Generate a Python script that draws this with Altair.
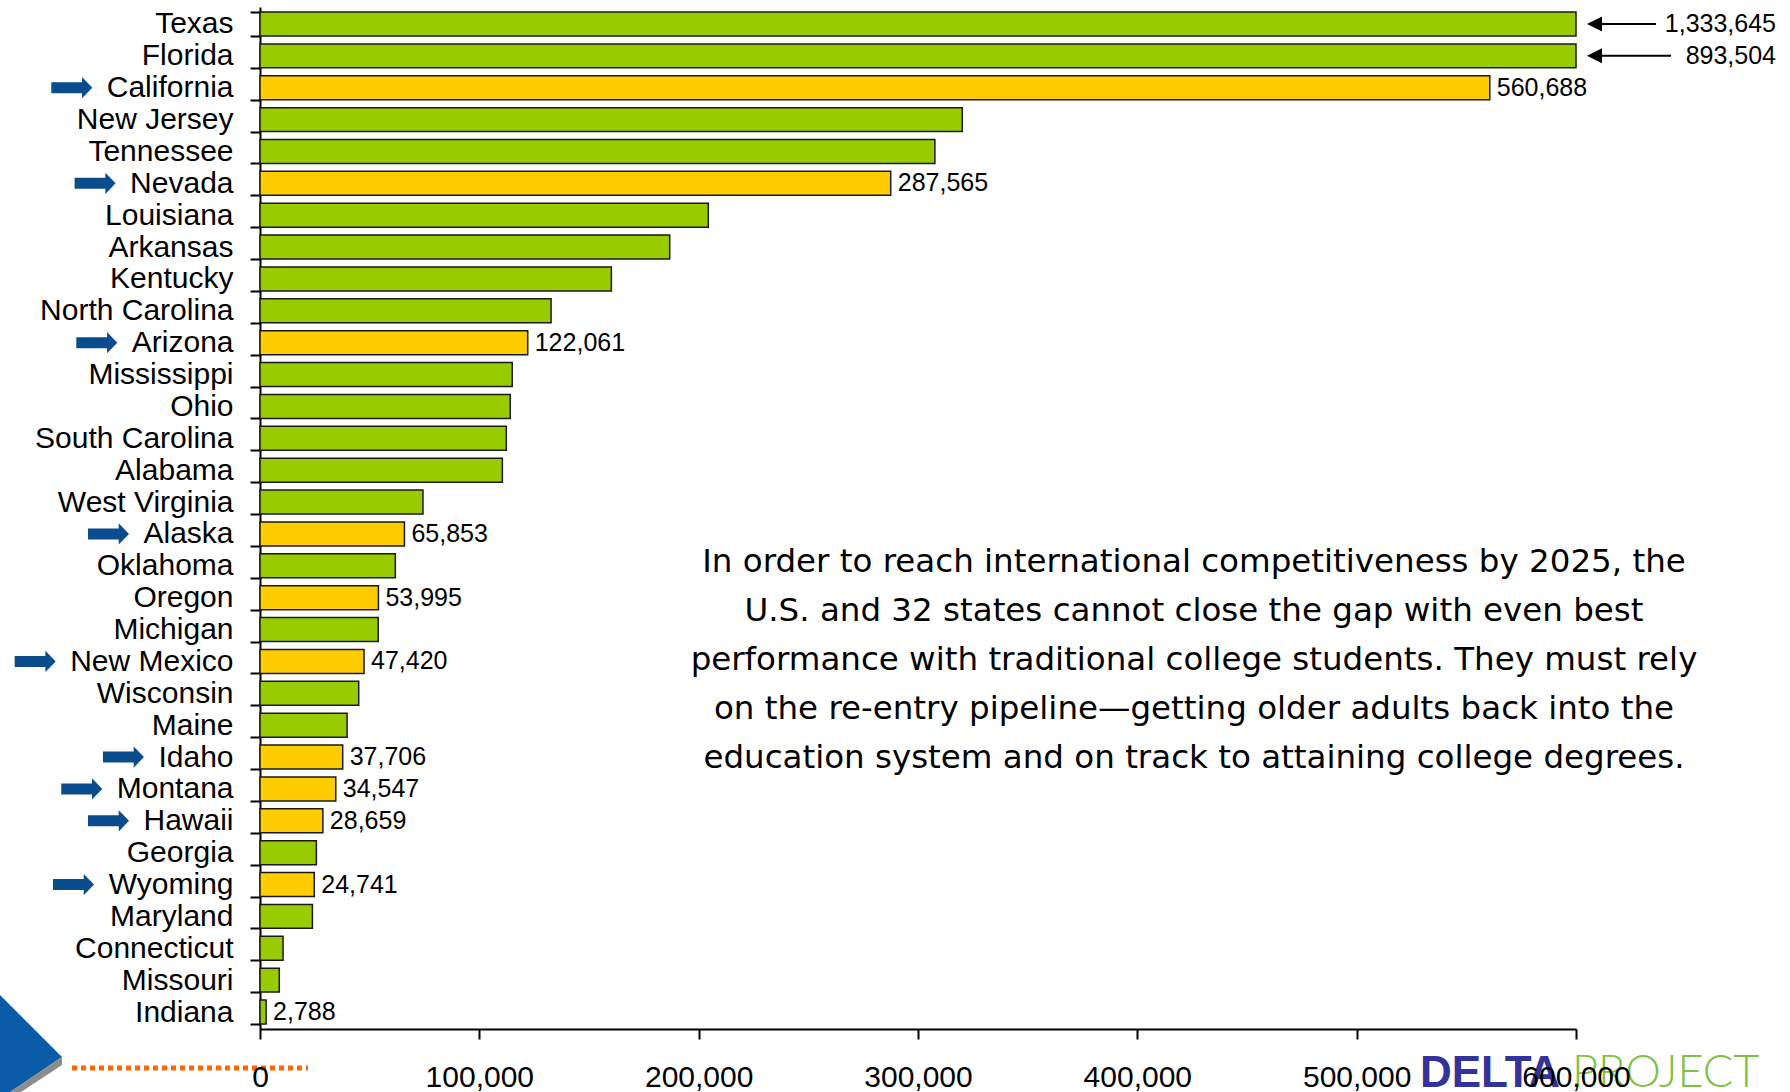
import altair as alt
import pandas as pd

# ---------------- data ----------------
states = ["Texas", "Florida", "California", "New Jersey", "Tennessee", "Nevada",
          "Louisiana", "Arkansas", "Kentucky", "North Carolina", "Arizona",
          "Mississippi", "Ohio", "South Carolina", "Alabama", "West Virginia",
          "Alaska", "Oklahoma", "Oregon", "Michigan", "New Mexico", "Wisconsin",
          "Maine", "Idaho", "Montana", "Hawaii", "Georgia", "Wyoming", "Maryland",
          "Connecticut", "Missouri", "Indiana"]
values = [1333645, 893504, 560688, 320200, 307700, 287565,
          204400, 186800, 160200, 132700, 122061,
          115000, 114100, 112300, 110500, 74300,
          65853, 61700, 53995, 53900, 47420, 45000,
          39700, 37706, 34547, 28659, 25700, 24741, 23900,
          10500, 8800, 2788]
highlighted = ["California", "Nevada", "Arizona", "Alaska", "Oregon", "New Mexico",
               "Idaho", "Montana", "Hawaii", "Wyoming"]
arrowed = ["California", "Nevada", "Arizona", "Alaska", "New Mexico", "Idaho",
           "Montana", "Hawaii", "Wyoming"]
labeled = highlighted + ["Indiana"]
called_out = ["Texas", "Florida"]
x_ticks = [0, 100000, 200000, 300000, 400000, 500000, 600000]
paragraph = [
    "In order to reach international competitiveness by 2025, the",
    "U.S. and 32 states cannot close the gap with even best",
    "performance with traditional college students.  They must rely",
    "on the re-entry pipeline\u2014getting older adults back into the",
    "education system and on track to attaining college degrees.",
]

# ---------------- layout constants ----------------
W, H = 1316, 1022
X_MAX = 600000
LABEL_FS = 30
FONT = "Liberation Sans"
GREEN, YELLOW, BLUE = "#99CC00", "#FFCC00", "#0B4D8C"

df = pd.DataFrame({
    "state": states,
    "value": values,
    "group": ["yellow" if s in highlighted else "green" for s in states],
})

# label width (Arial / Liberation Sans metrics, per 1000 em) to place the blue arrows
ARIAL = {" ": 278, "A": 667, "C": 722, "H": 722, "I": 278, "M": 833, "N": 722,
         "W": 944, "a": 556, "c": 500, "d": 556, "e": 556, "f": 278, "g": 556,
         "h": 556, "i": 222, "k": 500, "l": 222, "m": 833, "n": 556, "o": 556,
         "r": 333, "s": 500, "t": 278, "v": 500, "w": 722, "x": 500, "y": 500,
         "z": 500}


def text_w(s, fs):
    return sum(ARIAL.get(ch, 556) for ch in s) * fs / 1000.0


label_right = -27  # tick (10) + label padding (17), in pixels from the y axis
arrow_len = 41
px_to_data = X_MAX / W
arrow_df = pd.DataFrame({
    "state": arrowed,
    "ax": [(label_right - text_w(s, LABEL_FS) - 14 - arrow_len / 2) * px_to_data
           for s in arrowed],
})

x_scale = alt.Scale(domain=[0, X_MAX], nice=False, zero=True)
x_axis = alt.Axis(title=None, values=x_ticks, format=",d", grid=False,
                  labelFont=FONT, labelFontSize=LABEL_FS, labelColor="black",
                  labelPadding=23, tickSize=10, tickColor="black", tickWidth=2,
                  domainColor="black", domainWidth=2, labelFlush=False,
                  labelOverlap=False, zindex=2)
ysc = alt.Scale(paddingInner=0.25, paddingOuter=0.157)
y_axis = alt.Axis(title=None, tickBand="extent", labelFont=FONT,
                  labelFontSize=LABEL_FS, labelColor="black", labelLimit=0,
                  labelPadding=17, tickSize=10, tickColor="black",
                  tickWidth=2, domainColor="black", domainWidth=2)
y_enc = alt.Y("state:N", sort=states, scale=ysc, axis=y_axis)

base = alt.Chart(df)

bars = base.transform_calculate(
    plot_value=f"min(datum.value, {X_MAX})"
).mark_bar(stroke="#1a1a1a", strokeWidth=1.5).encode(
    x=alt.X("plot_value:Q", scale=x_scale, axis=x_axis),
    y=y_enc,
    color=alt.Color("group:N", scale=alt.Scale(domain=["yellow", "green"],
                                               range=[YELLOW, GREEN]), legend=None),
)

value_labels = base.transform_filter(
    alt.FieldOneOfPredicate(field="state", oneOf=labeled)
).mark_text(align="left", baseline="middle", dx=7, font=FONT, fontSize=25,
            color="black").encode(
    x=alt.X("value:Q", scale=x_scale, axis=x_axis),
    y=y_enc,
    text=alt.Text("value:Q", format=","),
)

# call-outs for the two bars running off the scale
callout_text = base.transform_filter(
    alt.FieldOneOfPredicate(field="state", oneOf=called_out)
).mark_text(align="right", baseline="middle", font=FONT, fontSize=25,
            color="black").encode(
    x=alt.value(1516), y=y_enc, text=alt.Text("value:Q", format=","))

tx_rule = base.transform_filter(alt.datum.state == "Texas").mark_rule(
    color="black", strokeWidth=2).encode(x=alt.value(1335), x2=alt.value(1396), y=y_enc)
fl_rule = base.transform_filter(alt.datum.state == "Florida").mark_rule(
    color="black", strokeWidth=2).encode(x=alt.value(1335), x2=alt.value(1411), y=y_enc)
heads = base.transform_filter(
    alt.FieldOneOfPredicate(field="state", oneOf=called_out)
).mark_point(shape="M-1,0L1,-1L1,1Z", filled=True, size=225, color="black",
             opacity=1, strokeWidth=0).encode(x=alt.value(1334.5), y=y_enc)

# blue arrows beside selected state names
arrow_path = "M-1,-0.27L0.5,-0.27L0.5,-0.52L1,0L0.5,0.52L0.5,0.27L-1,0.27Z"
blue_arrows = alt.Chart(arrow_df).mark_point(
    shape=arrow_path, filled=True, size=arrow_len ** 2, color=BLUE, opacity=1,
    strokeWidth=0
).encode(x=alt.X("ax:Q", scale=x_scale, axis=x_axis), y=y_enc)

dummy = alt.Chart(pd.DataFrame({"d": [0]}))

note = dummy.mark_text(text=paragraph, font="DejaVu Sans", fontSize=32.5,
                       lineHeight=49, align="center", baseline="middle",
                       color="black").encode(x=alt.value(934), y=alt.value(555))

# logo fragments at the bottom edge
orange_dots = dummy.mark_rule(color="#FF6600", strokeWidth=5, strokeDash=[5, 4]).encode(
    x=alt.value(-188), x2=alt.value(48), y=alt.value(1061))
logo_blue = dummy.mark_point(
    shape="M-0.62,-0.96L0.62,0.28L-0.42,0.98L-0.62,0.98Z", filled=True,
    size=10000, color="#0A5CA8", opacity=1, strokeWidth=0).encode(
    x=alt.value(31 - 260), y=alt.value(1043 - 7))
logo_grey = dummy.mark_point(
    shape="M0.62,0.28L0.62,0.44L-0.2,0.98L-0.42,0.98Z", filled=True,
    size=10000, color="#8C8C8C", opacity=1, strokeWidth=0).encode(
    x=alt.value(31 - 260), y=alt.value(1043 - 7))
delta = dummy.mark_text(text="DELTA", font=FONT, fontSize=44, fontWeight="bold",
                        color="#333399", align="left", baseline="alphabetic").encode(
    x=alt.value(1160), y=alt.value(1080))
project = dummy.mark_text(text="PROJECT", font="Lato", fontSize=45, fontWeight=300,
                          color="#7DC243", align="left", baseline="alphabetic").encode(
    x=alt.value(1312), y=alt.value(1080))

chart = alt.layer(
    logo_blue, logo_grey, orange_dots, delta, project,
    bars, value_labels, callout_text, tx_rule, fl_rule, heads, blue_arrows, note,
).properties(
    width=W, height=H,
    autosize=alt.AutoSizeParams(type="none"),
    padding={"left": 260, "top": 7, "right": 214, "bottom": 63},
    background="white",
).configure_view(stroke=None)

chart.save("out.html", embed_options={"renderer": "svg", "actions": False})
